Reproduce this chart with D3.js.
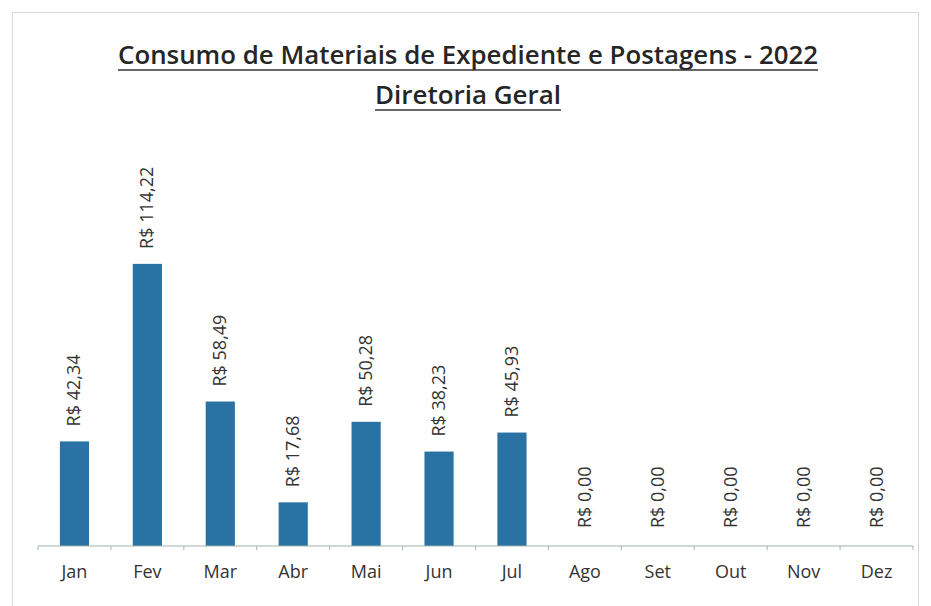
<!DOCTYPE html>
<html>
<head>
<meta charset="utf-8">
<script src="https://cdn.jsdelivr.net/npm/d3@7"></script>
<style>
    body { margin: 0; background: #fff; }
    svg { display: block; }
</style>
</head>
<body>
<div id="chart"></div>
<script>
// monthly values (R$)
const months = ["Jan", "Fev", "Mar", "Abr", "Mai", "Jun", "Jul", "Ago", "Set", "Out", "Nov", "Dez"];
const values = [42.34, 114.22, 58.49, 17.68, 50.28, 38.23, 45.93, 0, 0, 0, 0, 0];
const titleText = "Consumo de Materiais de Expediente e Postagens - 2022";
const subtitleText = "Diretoria Geral";

const width = 931, height = 606;
const margin = {left: 38, right: 18, top: 225, bottom: 60};

const svg = d3.select("#chart")
    .append("svg")
    .attr("width", width)
    .attr("height", height);

// frame of the chart area
svg.append("rect")
    .attr("x", 12.5)
    .attr("y", 12.5)
    .attr("width", 906)
    .attr("height", 600)
    .attr("fill", "none")
    .attr("stroke", "#d6dcda")
    .attr("stroke-width", 1);

const x = d3.scaleBand()
    .domain(months)
    .range([margin.left, width - margin.right])
    .paddingInner(0.6)
    .paddingOuter(0.3);

const y = d3.scaleLinear()
    .domain([0, 130])
    .range([height - margin.bottom, height - margin.bottom - 130 * 2.47]);

const fmt = v => "R$ " + v.toFixed(2).replace(".", ",");

// titles
const titles = [
    {text: titleText, y: 64, len: 700},
    {text: subtitleText, y: 104, len: 186}
];
titles.forEach(t => {
    svg.append("text")
        .attr("x", 468)
        .attr("y", t.y)
        .attr("text-anchor", "middle")
        .attr("font-family", "'Open Sans', sans-serif")
        .attr("font-weight", "600")
        .attr("font-size", "25px")
        .attr("fill", "#262626")
        .attr("textLength", t.len)
        .attr("lengthAdjust", "spacingAndGlyphs")
        .text(t.text);

    svg.append("line")
        .attr("x1", 468 - t.len / 2)
        .attr("x2", 468 + t.len / 2)
        .attr("y1", t.y + 6)
        .attr("y2", t.y + 6)
        .attr("stroke", "#333")
        .attr("stroke-width", 1.6);
});

// bars
svg.append("g")
    .selectAll("rect")
    .data(values)
    .enter()
    .append("rect")
    .attr("x", (d, i) => x(months[i]))
    .attr("y", d => y(d))
    .attr("width", x.bandwidth())
    .attr("height", d => y(0) - y(d))
    .attr("fill", "#2a72a4");

// value labels, rotated
svg.append("g")
    .selectAll("text")
    .data(values)
    .enter()
    .append("text")
    .attr("transform", (d, i) => {
        const cx = x(months[i]) + x.bandwidth() / 2 + 6;
        const cy = y(d) - (d > 0 ? 15 : 18);
        return `translate(${cx},${cy}) rotate(-90)`;
    })
    .attr("font-family", "'Open Sans', sans-serif")
    .attr("font-size", "18px")
    .attr("fill", "#333")
    .text(d => fmt(d));

// x axis
const xAxis = svg.append("g")
    .attr("transform", `translate(0,${y(0)})`);

xAxis.append("line")
    .attr("x1", margin.left)
    .attr("x2", width - margin.right)
    .attr("stroke", "#9fb5ad")
    .attr("stroke-width", 1);

const step = (width - margin.left - margin.right) / months.length;
xAxis.selectAll(".tick")
    .data(d3.range(months.length + 1))
    .enter()
    .append("line")
    .attr("x1", i => margin.left + i * step)
    .attr("x2", i => margin.left + i * step)
    .attr("y1", 0)
    .attr("y2", 4)
    .attr("stroke", "#9fb5ad");

xAxis.selectAll(".lbl")
    .data(months)
    .enter()
    .append("text")
    .attr("x", d => x(d) + x.bandwidth() / 2)
    .attr("y", 32)
    .attr("text-anchor", "middle")
    .attr("font-family", "'Open Sans', sans-serif")
    .attr("font-size", "18px")
    .attr("fill", "#333")
    .text(d => d);
</script>
</body>
</html>
